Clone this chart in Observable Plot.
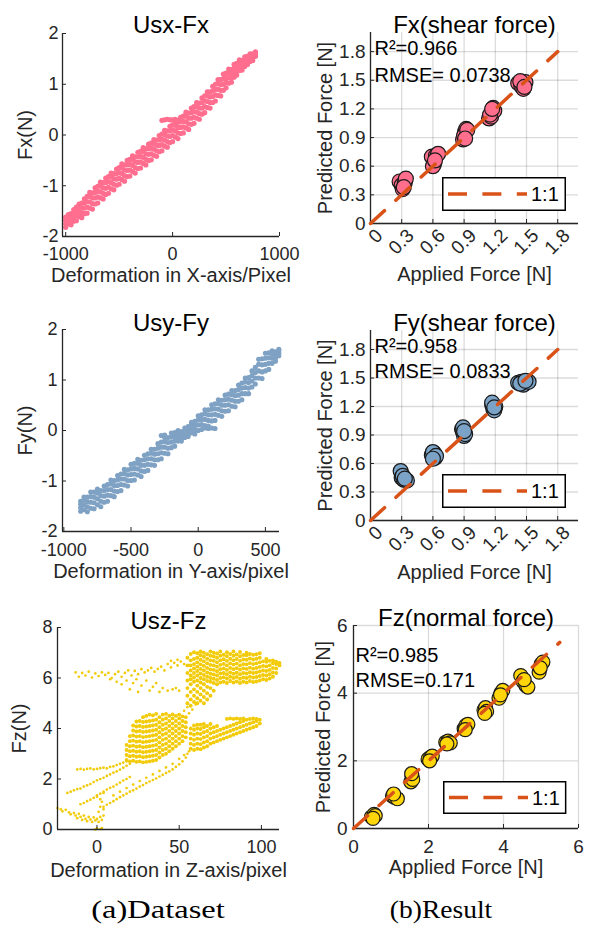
<!DOCTYPE html>
<html><head><meta charset="utf-8">
<script src="https://cdn.jsdelivr.net/npm/d3@7"></script>
<script src="https://cdn.jsdelivr.net/npm/@observablehq/plot@0.6"></script>
<style>
body{margin:0;background:#fff;}
#fig{position:relative;width:602px;height:932px;overflow:hidden;font-family:"Liberation Sans",Arial,sans-serif;}
.panel{position:absolute;}
.caption{position:absolute;font-family:"Liberation Serif","Times New Roman",serif;font-size:25px;color:#000;white-space:nowrap;line-height:1;transform-origin:50% 50%;}
</style></head><body><div id="fig"></div>
<script>
// ---------- (a) Dataset : Usx-Fx ----------
const usxCols = [-1000,-975,-950,-925,-900,-875,-850,-825,-800,-775,-750,-725,-700,-675,-650,-625,-600,-575,-550,-525,-500,-475,-450,-425,-400,-375,-350,-325,-300,-275,-250,-225,-200,-175,-150,-125,-100,-75,-50,-25,0,25,50,75,100,125,150,175,200,225,250,275,300,325,350,375,400,425,450,475,500,525,550,575,600,625,650,675,700,725,750,775];
const fxCols = [
[-1.82,-1.75,-1.68,-1.62],[-1.75,-1.68,-1.61,-1.57],[-1.77,-1.70,-1.62,-1.55],[-1.70,-1.61,-1.54,-1.47],
[-1.69,-1.59,-1.50,-1.42],[-1.61,-1.51,-1.42,-1.36],[-1.63,-1.53,-1.43,-1.34],[-1.55,-1.44,-1.34,-1.26],
[-1.54,-1.42,-1.31,-1.21],[-1.44,-1.32,-1.21,-1.13],[-1.46,-1.35,-1.24,-1.14],[-1.36,-1.24,-1.13,-1.04],
[-1.34,-1.22,-1.11,-1.01],[-1.24,-1.12,-1.01,-0.93],[-1.26,-1.15,-1.04,-0.94],[-1.17,-1.05,-0.94,-0.85],
[-1.15,-1.03,-0.92,-0.82],[-1.06,-0.94,-0.83,-0.75],[-1.08,-0.97,-0.86,-0.76],[-0.99,-0.87,-0.76,-0.67],
[-0.97,-0.85,-0.74,-0.64],[-0.88,-0.76,-0.65,-0.57],[-0.91,-0.80,-0.69,-0.59],[-0.82,-0.70,-0.59,-0.50],
[-0.81,-0.69,-0.58,-0.48],[-0.72,-0.60,-0.49,-0.41],[-0.75,-0.64,-0.53,-0.43],[-0.66,-0.54,-0.43,-0.34],
[-0.65,-0.53,-0.42,-0.32],[-0.56,-0.44,-0.33,-0.25],[-0.59,-0.48,-0.37,-0.27],[-0.50,-0.38,-0.27,-0.18],
[-0.49,-0.37,-0.26,-0.16],[-0.40,-0.28,-0.17,-0.09],[-0.42,-0.31,-0.20,-0.10],[-0.33,-0.21,-0.10,-0.01],
[-0.31,-0.19,-0.08,0.02,0.29],[-0.22,-0.10,0.01,0.09,0.30],[-0.24,-0.13,-0.02,0.08,0.31],[-0.15,-0.03,0.08,0.17,0.30],
[-0.13,-0.01,0.10,0.20,0.30],[-0.04,0.08,0.19,0.27,0.31],[-0.07,0.04,0.15,0.25,0.29],[0.03,0.15,0.26,0.35],
[0.04,0.16,0.27,0.37],[0.14,0.26,0.37,0.45],[0.11,0.22,0.33,0.43],[0.21,0.33,0.44,0.53],
[0.23,0.35,0.46,0.56],[0.33,0.45,0.56,0.64],[0.31,0.42,0.53,0.63],[0.41,0.53,0.64,0.73],
[0.44,0.56,0.67,0.77],[0.54,0.66,0.77,0.85],[0.53,0.64,0.75,0.85],[0.64,0.76,0.87,0.96],
[0.67,0.79,0.90,1.00],[0.78,0.90,1.01,1.09],[0.77,0.88,0.99,1.09],[0.88,1.00,1.11,1.20],
[0.93,1.04,1.13,1.22],[1.02,1.13,1.23,1.30],[1.04,1.13,1.21,1.29],[1.14,1.23,1.32,1.39],
[1.18,1.27,1.34,1.41],[1.27,1.35,1.43,1.48],[1.28,1.34,1.41,1.47],[1.35,1.42,1.48,1.54],
[1.39,1.45,1.50,1.55],[1.45,1.51,1.56,1.60],[1.47,1.52,1.56,1.60],[1.55,1.58,1.62,1.64]];

// ---------- (a) Dataset : Usy-Fy ----------
const usyCols = [-875,-850,-825,-800,-775,-750,-725,-700,-675,-650,-625,-600,-575,-550,-525,-500,-475,-450,-425,-400,-375,-350,-325,-300,-275,-250,-225,-200,-175,-150,-125,-100,-75,-50,-25,0,25,50,75,100,125,150,175,200,225,250,275,300,325,350,375,400,425,450,475,500,525,550,575,600];
const fyCols = [
[-1.60,-1.53,-1.46,-1.40],[-1.57,-1.47,-1.38,-1.32],[-1.61,-1.51,-1.41,-1.32],[-1.54,-1.42,-1.31,-1.22],
[-1.55,-1.43,-1.32,-1.22],[-1.47,-1.35,-1.24,-1.16],[-1.51,-1.40,-1.29,-1.19],[-1.42,-1.30,-1.19,-1.10],
[-1.40,-1.28,-1.17,-1.07],[-1.29,-1.17,-1.06,-0.98],[-1.31,-1.20,-1.09,-0.99],[-1.21,-1.09,-0.98,-0.89],
[-1.19,-1.07,-0.96,-0.86],[-1.08,-0.96,-0.85,-0.77],[-1.10,-0.99,-0.88,-0.78],[-0.99,-0.87,-0.76,-0.67],
[-0.98,-0.86,-0.75,-0.65],[-0.88,-0.76,-0.65,-0.57],[-0.91,-0.80,-0.69,-0.59],[-0.81,-0.69,-0.58,-0.49],
[-0.79,-0.67,-0.56,-0.46],[-0.68,-0.56,-0.45,-0.37],[-0.69,-0.58,-0.47,-0.37],[-0.58,-0.46,-0.35,-0.26],
[-0.56,-0.44,-0.33,-0.23,-0.10],[-0.45,-0.33,-0.22,-0.14,-0.09],[-0.46,-0.35,-0.24,-0.14],[-0.34,-0.23,-0.13,-0.05],
[-0.31,-0.21,-0.12,-0.04],[-0.21,-0.13,-0.05,0.00],[-0.21,-0.15,-0.08,-0.02],[-0.14,-0.07,-0.01,0.05],
[-0.12,-0.05,0.02,0.08],[-0.05,0.03,0.11,0.16],[-0.07,0.02,0.10,0.18],[0.00,0.11,0.21,0.29],
[0.02,0.12,0.22,0.31],[0.05,0.10,0.22,0.33,0.41],[0.04,0.09,0.20,0.31,0.41],[0.05,0.19,0.31,0.42,0.51],
[0.04,0.20,0.32,0.43,0.53],[0.30,0.42,0.53,0.61],[0.28,0.39,0.50,0.60],[0.38,0.50,0.61,0.70],
[0.39,0.51,0.62,0.72],[0.48,0.60,0.71,0.79],[0.47,0.58,0.69,0.79],[0.58,0.70,0.81,0.90],
[0.61,0.73,0.84,0.94],[0.73,0.85,0.96,1.04],[0.73,0.84,0.95,1.05],[0.86,0.98,1.09,1.18],
[0.92,1.04,1.15,1.25],[1.04,1.18,1.31,1.41],[1.03,1.16,1.30,1.42],[1.18,1.31,1.43,1.53],
[1.21,1.33,1.44,1.54],[1.33,1.43,1.52,1.58],[1.37,1.43,1.50,1.56],[1.48,1.53,1.58,1.61]];

// ---------- (a) Dataset : Usz-Fz ----------
const uszTopCols = [55,57,59,61,63,65,67,69,71,73,75,77,79,81,83,85,87,89,91,93,95,97,99,101,103,105,107,109,111];
const fzTopCols = [
[5.0,5.3,5.6,5.9,6.2,6.5,6.8],[4.9,5.15,5.45,5.75,5.95,6.1,6.3,6.5,6.7,6.95],
[5.05,5.3,5.55,5.85,6.02,6.2,6.38,6.55,6.75,7.02],[5.0,5.2,5.45,5.7,5.9,6.1,6.28,6.45,6.62,6.8,6.98],
[5.1,5.35,5.6,5.82,6.0,6.18,6.36,6.54,6.72,6.9,7.05],[5.0,5.25,5.5,5.75,5.95,6.12,6.3,6.48,6.66,6.84,7.0],
[5.15,5.4,5.65,5.88,6.05,6.22,6.4,6.58,6.76,6.94],[5.3,5.6,5.85,6.0,6.17,6.34,6.52,6.7,6.88,7.05],
[5.5,5.8,5.97,6.14,6.32,6.5,6.68,6.85,7.0],[5.75,5.92,6.1,6.27,6.45,6.62,6.8,6.97],
[5.82,6.0,6.18,6.35,6.52,6.7,6.88,7.05],[5.85,6.03,6.2,6.38,6.56,6.74,6.92],
[5.8,5.98,6.15,6.32,6.5,6.68,6.86,7.02],[5.88,6.05,6.22,6.4,6.58,6.76,6.95],
[5.82,6.0,6.17,6.35,6.53,6.7,6.88,7.05],[5.86,6.04,6.21,6.39,6.57,6.75,6.93],
[5.8,5.97,6.15,6.33,6.5,6.68,6.86,7.03],[5.85,6.02,6.2,6.38,6.55,6.73,6.91],
[5.82,6.0,6.18,6.36,6.54,6.72,6.9,7.0],[5.88,6.05,6.23,6.41,6.59,6.77,6.95],
[5.84,6.02,6.2,6.37,6.55,6.73,6.92],[5.86,6.04,6.22,6.4,6.58,6.76,6.94],
[5.9,6.08,6.26,6.44,6.62,6.8,6.98],[5.95,6.12,6.3,6.48,6.66],[5.92,6.1,6.28,6.46,6.64,6.75],
[5.98,6.15,6.32,6.5,6.68],[6.05,6.22,6.4,6.58,6.7],[6.2,6.38,6.55,6.65],[6.5,6.6]];
const uszMidCols = [18,20,22,24,26,28,30,32,34,36,38,40,42,44,46,48,50,52,54];
const fzMidCols = [
[2.75,2.95,3.15,3.35],[2.7,2.9,3.1,3.3,3.5,3.7],[2.72,2.92,3.12,3.32,3.52,3.72,3.92,4.12],
[2.68,2.88,3.08,3.28,3.48,3.68,3.88,4.08,4.28],[2.7,2.9,3.1,3.3,3.5,3.7,3.9,4.1,4.3],
[2.66,2.86,3.06,3.26,3.46,3.66,3.86,4.06,4.26,4.45],[2.68,2.88,3.08,3.28,3.48,3.68,3.88,4.08,4.28,4.5],
[2.7,2.9,3.1,3.3,3.5,3.7,3.9,4.1,4.3,4.55],[2.72,2.92,3.12,3.32,3.52,3.72,3.92,4.12,4.32,4.52],
[2.75,2.95,3.15,3.35,3.55,3.75,3.95,4.15,4.35,4.58],[2.85,3.05,3.25,3.45,3.65,3.85,4.05,4.25,4.45],
[2.95,3.15,3.35,3.55,3.75,3.95,4.15,4.35,4.55],[3.0,3.2,3.4,3.6,3.8,4.0,4.2,4.4,4.58],
[3.1,3.3,3.5,3.7,3.9,4.1,4.3,4.5],[3.2,3.4,3.6,3.8,4.0,4.2,4.4,4.56],[3.3,3.5,3.7,3.9,4.1,4.3,4.5],
[3.4,3.6,3.8,4.0,4.2,4.4,4.55],[3.5,3.7,3.9,4.1,4.3,4.48],[3.65,3.85,4.05,4.25,4.45]];
const uszRightCols = [57,59,61,63,65,67,69,71,73,75,77,79,81,83,85,87,89,91,93,95,97,99];
const fzRightCols = [
[3.2,3.4,3.6,3.8,4.0],[3.15,3.35,3.55,3.75,3.95,4.12],[3.2,3.4,3.6,3.8,4.0,4.15],
[3.18,3.38,3.58,3.78,3.98,4.15],[3.25,3.45,3.65,3.85,4.05,4.18],[3.3,3.5,3.7,3.9,4.1],
[3.4,3.6,3.8,4.0,4.18],[3.45,3.65,3.85,4.05],[3.5,3.7,3.9,4.1],[3.55,3.75,3.95],[3.6,3.8,4.0],
[3.65,3.85,4.05,4.38],[3.7,3.9,4.1,4.4],[3.75,3.95,4.15,4.38],[3.8,4.0,4.2,4.4],[3.85,4.05,4.25,4.38],
[3.9,4.1,4.3,4.4],[3.95,4.15,4.35],[4.0,4.2,4.38],[4.05,4.25,4.4],[4.1,4.3,4.38],[4.2,4.35]];
const uszFzSparse = [
[-13,6.22],[-11,6.05],[-9,6.2],[-7,6.1],[-5,6.25],[-3,6.02],[-1,6.18],[1,6.08],[3,6.22],[5,6.12],[7,6.2],[9,6.0],
[11,6.15],[13,6.25],[15,6.05],[17,6.2],[19,6.3],[21,6.1],[23,6.28],[25,6.15],[27,6.35],[29,6.22],[31,6.3],[33,6.4],
[35,6.25],[37,6.36],[39,6.45],[41,6.3],[43,6.55],[45,6.42],[47,6.6],[49,6.5],[51,6.65],[53,6.55],[45,6.68],[49,6.72],
[12,5.85],[15,5.75],[18,5.9],[20,5.55],[22,5.8],[25,5.45],[27,5.7],[30,5.9],[32,5.5],[34,5.65],[36,5.8],[38,5.45],
[40,5.6],[43,5.5],[46,5.55],[48,5.6],[50,5.5],[8,5.95],[24,5.95],
[53,4.7],[55,4.85],[58,4.75],[60,4.95],[56,4.6],
[-24,0.85],[-22,0.8],[-21,0.72],[-19,0.78],[-17,0.68],[-16,0.6],[-14,0.65],[-13,0.55],[-12,0.45],[-11,0.62],
[-10,0.5],[-9,0.38],[-8,0.55],[-7,0.42],[-6,0.33],[-5,0.5],[-4,0.4],[-3,0.3],[-2,0.48],[-1,0.36],[0,0.42],[1,0.3],
[2,0.5],[3,0.38],[4,0.55],[0,0.05],[2,0.02],[-1,0.0],[3,0.06],
[1,0.7],[2,0.9],[3,1.1],[4,0.8],[0,1.3],[2,1.2],[4,1.45],
[-18,1.45],[-16,1.5],[-14,1.55],[-12,1.6],[-10,1.62],[-8,1.7],[-6,1.75],[-4,1.8],[-2,1.88],[0,1.95],[2,2.0],[4,2.05],
[6,2.12],[8,2.18],[10,2.25],[12,2.3],[14,2.37],[16,2.45],[18,2.52],[20,2.6],
[-10,1.0],[-8,1.05],[-6,1.12],[-4,1.18],[-2,1.25],[0,1.35],[2,1.42],[4,1.5],[6,1.58],[8,1.65],[10,1.7],[12,1.78],
[14,1.86],[16,1.94],[18,2.0],[20,2.08],
[-12,2.38],[-10,2.4],[-8,2.37],[-6,2.4],[-4,2.42],[-2,2.38],[0,2.4],[2,2.43],[4,2.45],[6,2.42],[8,2.48],[10,2.5],
[12,2.55],[14,2.6],[16,2.65],[18,2.7],
[4,0.9],[6,0.98],[8,1.05],[10,1.12],[12,1.2],[14,1.28],[16,1.35],[18,1.42],[20,1.5],[22,1.55],[24,1.62],[26,1.7],
[28,1.76],[30,1.84],[32,1.9],[34,1.96],[36,2.02],[38,2.1],[40,2.16],[42,2.24],[44,2.3],[46,2.38],[48,2.48],[50,2.58],
[52,2.7],[54,2.85],[55,3.0],[56,3.1],
[10,1.35],[14,1.5],[18,1.64],[22,1.78],[26,1.92],[30,2.05],[34,2.18],[38,2.32],[42,2.46],[46,2.6],[50,2.8],[53,2.95]];

// ---------- (b) Result ----------
const fxApplied = [0.28,0.30,0.31,0.33,0.34,0.32, 0.59,0.61,0.63,0.60,0.65,0.62, 0.89,0.91,0.92,0.90,0.93,0.91, 1.14,1.16,1.18,1.19,1.15,1.17, 1.42,1.45,1.47,1.49,1.44,1.48];
const fxPredicted = [0.44,0.40,0.36,0.43,0.47,0.38, 0.70,0.62,0.71,0.60,0.73,0.66, 0.88,0.96,0.99,0.92,0.98,0.89, 1.10,1.12,1.21,1.18,1.14,1.20, 1.47,1.44,1.41,1.48,1.49,1.43];
const fyApplied = [0.29,0.30,0.32,0.35,0.31,0.33, 0.59,0.61,0.62,0.60,0.63,0.60, 0.88,0.89,0.90,0.91,0.89,0.90, 1.17,1.18,1.19,1.20,1.17,1.19, 1.42,1.45,1.47,1.52,1.44,1.49];
const fyPredicted = [0.52,0.45,0.43,0.42,0.47,0.44, 0.69,0.71,0.66,0.72,0.68,0.65, 0.96,0.93,0.89,0.91,0.98,0.94, 1.22,1.18,1.16,1.20,1.24,1.19, 1.45,1.46,1.43,1.46,1.44,1.47];
const fzApplied = [0.48,0.55,0.58,0.52, 1.04,1.10,1.17,1.07, 1.53,1.56,1.58,1.55, 1.99,2.05,2.10,2.03, 2.46,2.52,2.58,2.49, 2.95,3.00,3.05,2.98, 3.48,3.52,3.55,3.50, 3.88,3.93,3.98,3.92, 4.46,4.52,4.60,4.65,4.55, 4.95,5.00,5.05,4.98];
const fzPredicted = [0.34,0.42,0.38,0.30, 0.96,0.92,0.88,1.02, 1.38,1.55,1.45,1.62, 2.05,2.10,2.14,2.00, 2.55,2.58,2.53,2.50, 2.95,3.05,3.08,2.92, 3.50,3.57,3.46,3.40, 3.85,4.00,4.08,3.95, 4.52,4.35,4.22,4.18,4.40, 4.62,4.85,4.92,4.75];
const shearLineRange = [0, 1.8];
const normalLineRange = [0, 5.5];
const shearTicks = [0, 0.3, 0.6, 0.9, 1.2, 1.5, 1.8];
const normalTicks = [0, 2, 4, 6];

const ink = "#262626";
const FONT = '"Liberation Sans", Arial, sans-serif';
const fig = document.getElementById("fig");
const cols = (xs, ys) => xs.flatMap((x, i) => ys[i].map(y => ({x, y})));

function place(node, left, top) {
  const d = document.createElement("div");
  d.className = "panel";
  d.style.left = left + "px"; d.style.top = top + "px";
  d.appendChild(node); fig.appendChild(d);
}

function leftPanel(o) {
  const innerW = o.width - o.ml - o.mr, innerH = o.height - o.mt - o.mb;
  return Plot.plot({
    width: o.width, height: o.height,
    marginLeft: o.ml, marginRight: o.mr, marginTop: o.mt, marginBottom: o.mb,
    style: {fontFamily: FONT, fontSize: "18px", color: ink, background: "transparent", overflow: "visible"},
    x: {domain: o.xDomain}, y: {domain: o.yDomain},
    marks: [
      Plot.dot(o.points, {x: "x", y: "y", r: o.r, fill: o.color}),
      Plot.dot(o.sparse || [], {x: "x", y: "y", r: o.rSparse, fill: o.color}),
      Plot.ruleX([o.xDomain[0]], {stroke: ink, strokeWidth: 1.3}),
      Plot.ruleY([o.yDomain[0]], {stroke: ink, strokeWidth: 1.3}),
      Plot.tickX(o.xTicks, {x: d => d, insetTop: innerH - 4, stroke: ink}),
      Plot.tickY(o.yTicks, {y: d => d, insetRight: innerW - 4, stroke: ink}),
      Plot.axisX(o.xTicks, {tickSize: 0, tickPadding: o.xPad, tickFormat: d => String(d), label: null}),
      Plot.axisY(o.yTicks, {tickSize: 0, tickPadding: o.yPad, tickFormat: d => String(d), label: null}),
      Plot.text([o.title], {text: d => d, frameAnchor: "top", dy: o.titleDy, fontSize: 24, fill: "#000"}),
      Plot.text([o.xLabel], {text: d => d, frameAnchor: "bottom", dy: o.xLabelDy, fontSize: 20, fill: ink}),
      Plot.text([o.yLabel], {text: d => d, frameAnchor: "left", textAnchor: "middle", dx: o.yLabelDx, rotate: -90, fontSize: 20, fill: ink})
    ]
  });
}

function rightPanel(o) {
  const innerW = o.width - o.ml - o.mr, innerH = o.height - o.mt - o.mb;
  const pts = o.applied.map((x, i) => ({x, y: o.predicted[i]}));
  const diag = o.lineRange.map(v => ({x: v, y: v}));
  const rotated = o.rotate ? {tickRotate: -45, dx: o.rotDx} : {};
  return Plot.plot({
    width: o.width, height: o.height,
    marginLeft: o.ml, marginRight: o.mr, marginTop: o.mt, marginBottom: o.mb,
    style: {fontFamily: FONT, fontSize: "19px", color: ink, background: "transparent", overflow: "visible"},
    x: {domain: o.domain}, y: {domain: o.domain},
    marks: [
      Plot.gridX(o.ticks, {stroke: "#000", strokeOpacity: 0.14, strokeWidth: 1.3}),
      Plot.gridY(o.ticks, {stroke: "#000", strokeOpacity: 0.14, strokeWidth: 1.3}),
      Plot.ruleX([o.domain[0]], {stroke: ink, strokeWidth: 1.3}),
      Plot.ruleY([o.domain[0]], {stroke: ink, strokeWidth: 1.3}),
      Plot.tickX(o.ticks, {x: d => d, insetTop: innerH - 4, stroke: ink}),
      Plot.tickY(o.ticks, {y: d => d, insetRight: innerW - 4, stroke: ink}),
      Plot.dot(pts, {x: "x", y: "y", r: o.r, fill: o.color, stroke: "#1a1a1a", strokeWidth: 1.2}),
      Plot.line(diag, {x: "x", y: "y", stroke: "#D95319", strokeWidth: 3.5, strokeDasharray: "19,15.4"}),
      Plot.axisX(o.ticks, {tickSize: 0, tickPadding: o.xPad, tickFormat: d => String(d), label: null, ...rotated}),
      Plot.axisY(o.ticks, {tickSize: 0, tickPadding: o.yPad, tickFormat: d => String(d), label: null}),
      Plot.text([o.title], {text: d => d, frameAnchor: "top", dy: o.titleDy, fontSize: 24, fill: "#000"}),
      Plot.text([o.xLabel], {text: d => d, frameAnchor: "bottom", dy: o.xLabelDy, fontSize: 20, fill: ink}),
      Plot.text([o.yLabel], {text: d => d, frameAnchor: "left", textAnchor: "middle", dx: o.yLabelDx, rotate: -90, fontSize: 20, fill: ink}),
      Plot.text([o.r2], {text: d => d, frameAnchor: "top-left", textAnchor: "start", dx: o.annDx, dy: o.r2Dy, fontSize: 20, fill: "#000"}),
      Plot.text([o.rmse], {text: d => d, frameAnchor: "top-left", textAnchor: "start", dx: o.annDx, dy: o.rmseDy, fontSize: 20, fill: "#000"})
    ]
  });
}

function legend(left, top, w, h) {
  const ns = "http://www.w3.org/2000/svg";
  const svg = document.createElementNS(ns, "svg");
  svg.setAttribute("width", w); svg.setAttribute("height", h);
  svg.style.position = "absolute"; svg.style.left = left + "px"; svg.style.top = top + "px";
  svg.innerHTML = `<rect x="0.75" y="0.75" width="${w - 1.5}" height="${h - 1.5}" fill="#fff" stroke="#000" stroke-width="1.5"/>` +
    `<line x1="6" x2="85" y1="${h / 2}" y2="${h / 2}" stroke="#D95319" stroke-width="3.5" stroke-dasharray="19,15.4"/>` +
    `<text x="89" y="${h / 2}" dominant-baseline="central" font-family='${FONT}' font-size="20" fill="#000">1:1</text>`;
  fig.appendChild(svg);
}

// Left column
place(leftPanel({width: 300, height: 300, ml: 62, mr: 21, mt: 33, mb: 64,
  xDomain: [-1030, 1000], yDomain: [-2, 2], xTicks: [-1000, 0, 1000], yTicks: [-2, -1, 0, 1, 2],
  points: cols(usxCols, fxCols), r: 2.6, color: "#FF6E8E", xPad: 11, yPad: 4,
  title: "Usx-Fx", xLabel: "Deformation in X-axis/Pixel", yLabel: "Fx(N)", titleDy: -18, xLabelDy: 45, yLabelDx: -37}), 0, 0);

place(leftPanel({width: 300, height: 300, ml: 62, mr: 21, mt: 29, mb: 69,
  xDomain: [-1010, 605], yDomain: [-2, 2], xTicks: [-1000, -500, 0, 500], yTicks: [-2, -1, 0, 1, 2],
  points: cols(usyCols, fyCols), r: 2.55, color: "#7FA2C4", xPad: 12, yPad: 5,
  title: "Usy-Fy", xLabel: "Deformation in Y-axis/pixel", yLabel: "Fy(N)", titleDy: -16, xLabelDy: 46, yLabelDx: -37}), 0, 300);

place(leftPanel({width: 300, height: 300, ml: 57, mr: 21, mt: 37, mb: 61,
  xDomain: [-24, 111], yDomain: [0, 8], xTicks: [0, 50, 100], yTicks: [0, 2, 4, 6, 8],
  points: [...cols(uszTopCols, fzTopCols), ...cols(uszMidCols, fzMidCols), ...cols(uszRightCols, fzRightCols)],
  sparse: uszFzSparse.map(([x, y]) => ({x, y})), rSparse: 1.35,
  r: 1.95, color: "#F2CB0A", xPad: 11, yPad: 5,
  title: "Usz-Fz", xLabel: "Deformation in Z-axis/pixel", yLabel: "Fz(N)", titleDy: -16, xLabelDy: 47, yLabelDx: -38}), 0, 590);

// Right column
place(rightPanel({width: 302, height: 300, ml: 70, mr: 24, mt: 32, mb: 77, domain: [0, 2], ticks: shearTicks,
  applied: fxApplied, predicted: fxPredicted, lineRange: shearLineRange, r: 7.5, color: "#FF6E8C",
  rotate: true, rotDx: 9, xPad: 9, yPad: 5,
  title: "Fx(shear force)", xLabel: "Applied Force [N]", yLabel: "Predicted Force [N]",
  titleDy: -17, xLabelDy: 57, yLabelDx: -45, r2: "R²=0.966", rmse: "RMSE= 0.0738", annDx: 4, r2Dy: 8, rmseDy: 35}), 300, 0);

place(rightPanel({width: 302, height: 300, ml: 70, mr: 24, mt: 30, mb: 80, domain: [0, 2], ticks: shearTicks,
  applied: fyApplied, predicted: fyPredicted, lineRange: shearLineRange, r: 7.5, color: "#7BA3C8",
  rotate: true, rotDx: 9, xPad: 9, yPad: 5,
  title: "Fy(shear force)", xLabel: "Applied Force [N]", yLabel: "Predicted Force [N]",
  titleDy: -17, xLabelDy: 58, yLabelDx: -45, r2: "R²=0.958", rmse: "RMSE= 0.0833", annDx: 4, r2Dy: 8, rmseDy: 33}), 300, 300);

place(rightPanel({width: 302, height: 300, ml: 53, mr: 24, mt: 35, mb: 62, domain: [0, 6], ticks: normalTicks,
  applied: fzApplied, predicted: fzPredicted, lineRange: normalLineRange, r: 7, color: "#FFD60A",
  rotate: false, xPad: 11, yPad: 6,
  title: "Fz(normal force)", xLabel: "Applied Force [N]", yLabel: "Predicted Force [N]",
  titleDy: -17, xLabelDy: 45, yLabelDx: -30, r2: "R²=0.985", rmse: "RMSE=0.171", annDx: 2, r2Dy: 22.5, rmseDy: 47.5}), 300, 590);

legend(441.7, 176.7, 124, 34);
legend(441.7, 474, 124, 34);
legend(443.3, 781, 123.4, 33);

// Captions
function caption(text, cx, top, sx) {
  const c = document.createElement("div");
  c.className = "caption"; c.textContent = text;
  c.style.left = cx + "px"; c.style.top = top + "px";
  c.style.transform = `translateX(-50%) scaleX(${sx})`;
  fig.appendChild(c);
}
caption("(a)Dataset", 158, 897, 1.3);
caption("(b)Result", 441, 897, 1.1);
</script></body></html>
